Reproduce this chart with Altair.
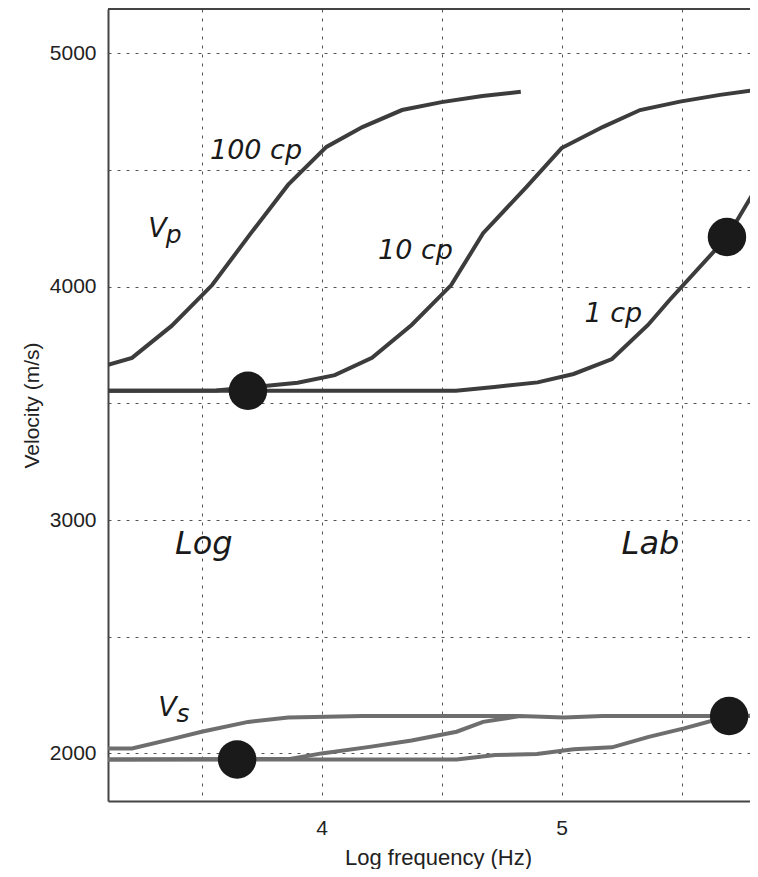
import altair as alt
import pandas as pd

# ---- data ----
p100_x = [3.11, 3.21, 3.375, 3.544, 3.70, 3.86, 4.02, 4.17, 4.335, 4.50, 4.67, 4.83]
p100_y = [3665, 3695, 3832, 4007, 4222, 4436, 4599, 4684, 4757, 4791, 4817, 4835]

p10_x = [3.11, 3.56, 3.72, 3.90, 4.055, 4.21, 4.375, 4.54, 4.673, 4.854, 5.00, 5.173, 5.327, 5.493, 5.66, 5.81]
p10_y = [3554, 3555, 3570, 3588, 3621, 3695, 3836, 4007, 4229, 4428, 4594, 4685, 4757, 4793, 4822, 4843]

p1_x = [3.11, 4.56, 4.72, 4.90, 5.05, 5.21, 5.36, 5.45, 5.69, 5.81]
p1_y = [3554, 3554, 3570, 3590, 3626, 3690, 3836, 3943, 4213, 4421]

s100_x = [3.11, 3.21, 3.375, 3.50, 3.694, 3.861, 4.02, 4.17, 4.50, 4.826]
s100_y = [2021, 2021, 2061, 2093, 2135, 2154, 2157, 2160, 2160, 2160]

s10_x = [3.11, 3.868, 4.00, 4.20, 4.375, 4.5625, 4.673, 4.826, 5.01, 5.17, 5.50, 5.81]
s10_y = [1974, 1976, 2000, 2028, 2055, 2093, 2135, 2160, 2154, 2160, 2160, 2160]

s1_x = [3.11, 4.563, 4.723, 4.897, 5.05, 5.21, 5.363, 5.51, 5.70, 5.81]
s1_y = [1974, 1974, 1993, 1997, 2018, 2026, 2071, 2107, 2160, 2162]

dot_x = [3.693, 5.689, 3.648, 5.698]
dot_y = [3554, 4213, 1974, 2160]

cp_text = ["100 cp", "10 cp", "1 cp"]
cp_x = [3.535, 4.235, 5.095]
cp_y = [4546, 4117, 3850]

site_text = ["Log", "Lab"]
site_x = [3.389, 5.25]
site_y = [2853, 2853]

v_text = ["V", "V"]
v_x = [3.2775, 3.319]
v_y = [4214, 2160]

sub_text = ["p", "s"]
sub_x = [3.351, 3.395]
sub_y = [4187, 2135]

x_grid = [3.5, 4, 4.5, 5, 5.5]
y_grid = [2000, 2500, 3000, 3500, 4000, 4500, 5000]

# ---- tables ----
def lines(specs):
    rows = []
    for name, xs, ys in specs:
        for x, y in zip(xs, ys):
            rows.append({"series": name, "freq": x, "vel": y})
    return pd.DataFrame(rows)

p_df = lines([("P 100 cp", p100_x, p100_y), ("P 10 cp", p10_x, p10_y), ("P 1 cp", p1_x, p1_y)])
s_df = lines([("S 100 cp", s100_x, s100_y), ("S 10 cp", s10_x, s10_y), ("S 1 cp", s1_x, s1_y)])
dot_df = pd.DataFrame({"freq": dot_x, "vel": dot_y})
cp_df = pd.DataFrame({"t": cp_text, "freq": cp_x, "vel": cp_y})
site_df = pd.DataFrame({"t": site_text, "freq": site_x, "vel": site_y})
v_df = pd.DataFrame({"t": v_text, "freq": v_x, "vel": v_y})
sub_df = pd.DataFrame({"t": sub_text, "freq": sub_x, "vel": sub_y})

W, H = 642, 792
AXFONT = "Liberation Sans, Arial, sans-serif"
ANFONT = "DejaVu Sans"

xs = alt.Scale(domain=[3.11, 3.11 + W / 240.0], nice=False, zero=False)
ys = alt.Scale(domain=[1796, 5190], nice=False, zero=False)

common = dict(ticks=False, grid=True, gridDash=[3, 6], gridColor="#555555", gridWidth=1,
              domainColor="#444444", domainWidth=2,
              labelFont=AXFONT, labelColor="#222222",
              titleFont=AXFONT, titleFontWeight="normal",
              titleColor="#222222", labelFlush=False, labelOverlap=False)

x_enc = alt.X("freq:Q", scale=xs, title="Log frequency (Hz)",
              axis=alt.Axis(values=x_grid,
                            labelExpr="datum.value % 1 == 0 ? format(datum.value, 'd') : ''",
                            labelPadding=16, titlePadding=9, titleX=330,
                            labelFontSize=21, titleFontSize=22, **common))
y_enc = alt.Y("vel:Q", scale=ys, title="Velocity (m/s)",
              axis=alt.Axis(values=y_grid,
                            labelExpr="datum.value % 1000 == 0 ? format(datum.value, 'd') : ''",
                            labelPadding=12, titlePadding=7,
                            labelFontSize=21, titleFontSize=21, **common))

p_lines = alt.Chart(p_df).mark_line(color="#3c3c3c", strokeWidth=4, clip=True).encode(
    x=x_enc, y=y_enc, detail="series:N")
s_lines = alt.Chart(s_df).mark_line(color="#6e6e6e", strokeWidth=4, clip=True).encode(
    x="freq:Q", y="vel:Q", detail="series:N")
dots = alt.Chart(dot_df).mark_circle(color="#1a1a1a", opacity=1, size=1480, clip=True).encode(
    x="freq:Q", y="vel:Q")

def label(df, size):
    return alt.Chart(df).mark_text(font=ANFONT, fontStyle="italic", fontSize=size,
                                   color="#1a1a1a", align="left", baseline="alphabetic").encode(
        x="freq:Q", y="vel:Q", text="t:N")

cp_lbl = label(cp_df, 27)
site_lbl = label(site_df, 32)
v_lbl = label(v_df, 27)
sub_lbl = label(sub_df, 25)

top_border = alt.Chart(pd.DataFrame({"a": [0]})).mark_rule(color="#444444", strokeWidth=2).encode(
    x=alt.value(0), x2=alt.value(W), y=alt.value(0))

chart = alt.layer(p_lines, s_lines, dots, cp_lbl, site_lbl, v_lbl, sub_lbl, top_border).properties(
    width=W, height=H,
    autosize=alt.AutoSizeParams(type="none"),
    padding={"left": 100, "top": 1, "right": 0, "bottom": 68},
    background="white",
).configure_view(stroke=None)

chart.save("out.html", embed_options={"renderer": "svg", "actions": False})
